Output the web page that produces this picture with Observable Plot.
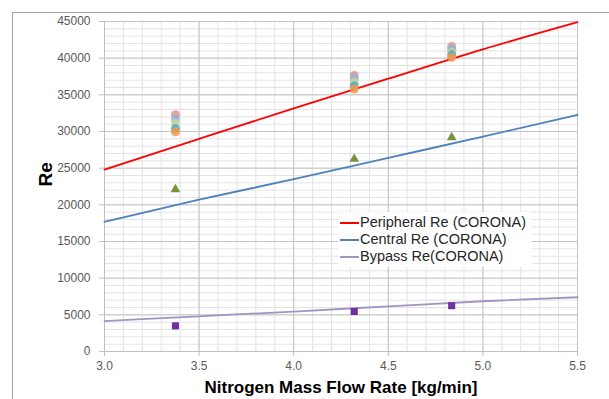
<!DOCTYPE html>
<html>
<head>
<meta charset="utf-8">
<script src="https://cdn.jsdelivr.net/npm/d3@7"></script>
<script src="https://cdn.jsdelivr.net/npm/@observablehq/plot@0.6"></script>
<style>
  html, body { margin: 0; padding: 0; background: #fff; }
  #wrap { position: relative; width: 609px; height: 399px; overflow: hidden; }
  #frame { position: absolute; left: 12px; top: 12px; width: 700px; height: 500px; border: 1px solid #a6a6a6; pointer-events: none; }
  #legend { position: absolute; left: 338px; top: 212px; width: 194px; padding: 2px 0; background: #fff;
            font-family: "Liberation Sans", Arial, sans-serif; font-size: 14.5px; color: #262626; line-height: 17px; }
  #legend .row { display: flex; align-items: center; white-space: nowrap; }
  #legend .sw { width: 19px; height: 2px; margin-left: 2px; margin-right: 1px; }
</style>
</head>
<body>
<div id="wrap">
  <div id="chart"></div>
  <div id="frame"></div>
  <div id="legend"></div>
</div>
<script>
// Model curves (CORONA)
const curveX = [3.0, 3.5, 4.0, 4.5, 5.0, 5.5];
const peripheralRe = [24800, 29000, 33150, 37200, 41200, 44900];
const centralRe = [17700, 20700, 23500, 26400, 29300, 32250];
const bypassRe = [4150, 4800, 5450, 6150, 6850, 7400];

// Measured points
const flowX = [3.375, 4.32, 4.835];
const periPink = [32300, 37650, 41600];
const periBlue = [31700, 37200, 41200];
const periGreen = [31100, 36700, 40800];
const periTeal = [30400, 36200, 40450];
const periOrange = [29950, 35800, 40100];
const centralMeas = [22100, 26250, 29200];
const bypassMeas = [3500, 5450, 6250];

const xTicks = [3.0, 3.5, 4.0, 4.5, 5.0, 5.5];
const yTicks = [0, 5000, 10000, 15000, 20000, 25000, 30000, 35000, 40000, 45000];

const legendItems = ["Peripheral Re (CORONA)", "Central Re (CORONA)", "Bypass Re(CORONA)"];
const lineColors = ["#ff0000", "#4f81bd", "#a294c2"];

const xMinor = d3.range(30, 56, 1).map(v => v / 10);
const yMinor = d3.range(0, 45001, 1000);

const curves = (ys) => curveX.map((x, i) => ({x, y: ys[i]}));
const pts = (ys) => flowX.map((x, i) => ({x, y: ys[i]}));

const dotSeries = [
  [periPink, "#d99694"],
  [periBlue, "#95b3d7"],
  [periGreen, "#c3d69b"],
  [periTeal, "#4bacc6"],
  [periOrange, "#f79646"]
];

const chart = Plot.plot({
  width: 609,
  height: 399,
  marginLeft: 104,
  marginRight: 32,
  marginTop: 21,
  marginBottom: 48,
  style: { fontFamily: "'Liberation Sans', Arial, sans-serif", background: "transparent" },
  x: { domain: [3, 5.5] },
  y: { domain: [0, 45000] },
  marks: [
    Plot.ruleX(xMinor, { stroke: "#e3e3e3", strokeWidth: 1 }),
    Plot.ruleY(yMinor, { stroke: "#e3e3e3", strokeWidth: 1 }),
    Plot.ruleX(xTicks, { stroke: "#c4c4c4", strokeWidth: 1 }),
    Plot.ruleY(yTicks, { stroke: "#c4c4c4", strokeWidth: 1 }),
    Plot.axisX({ ticks: xTicks, tickFormat: d3.format(".1f"), tickSize: 5, tickPadding: 5, fontSize: 12, color: "#595959", stroke: "#bfbfbf", label: null }),
    Plot.axisY({ ticks: yTicks, tickFormat: d3.format("d"), tickSize: 5, tickPadding: 9, fontSize: 12, color: "#595959", stroke: "#bfbfbf", label: null }),
    Plot.ruleY([0], { stroke: "#bfbfbf" }),
    Plot.ruleX([3], { stroke: "#bfbfbf" }),
    Plot.line(curves(bypassRe), { x: "x", y: "y", stroke: lineColors[2], strokeWidth: 1.8, curve: "monotone-x" }),
    Plot.line(curves(centralRe), { x: "x", y: "y", stroke: lineColors[1], strokeWidth: 1.8, curve: "monotone-x" }),
    Plot.line(curves(peripheralRe), { x: "x", y: "y", stroke: lineColors[0], strokeWidth: 1.8, curve: "monotone-x" }),
    ...dotSeries.map(([ys, c]) => Plot.dot(pts(ys), { x: "x", y: "y", r: 4.5, fill: c, fillOpacity: 0.85 })),
    Plot.dot(pts(centralMeas), { x: "x", y: "y", symbol: "triangle", r: 3.6, fill: "#77933c" }),
    Plot.dot(pts(bypassMeas), { x: "x", y: "y", symbol: "square", r: 4, fill: "#7030a0" }),
    Plot.text(["Re"], { frameAnchor: "left", dx: -59, rotate: -90, fontSize: 19, fontWeight: "bold", fill: "#000" }),
    Plot.text(["Nitrogen Mass Flow Rate [kg/min]"], { frameAnchor: "bottom", dy: 41, fontSize: 17, fontWeight: "bold", fill: "#000" })
  ]
});
document.getElementById("chart").appendChild(chart);

const legend = document.getElementById("legend");
legendItems.forEach((name, i) => {
  const row = document.createElement("div");
  row.className = "row";
  const sw = document.createElement("span");
  sw.className = "sw";
  sw.style.background = lineColors[i];
  const t = document.createElement("span");
  t.textContent = name;
  row.appendChild(sw);
  row.appendChild(t);
  legend.appendChild(row);
});
</script>
</body>
</html>
